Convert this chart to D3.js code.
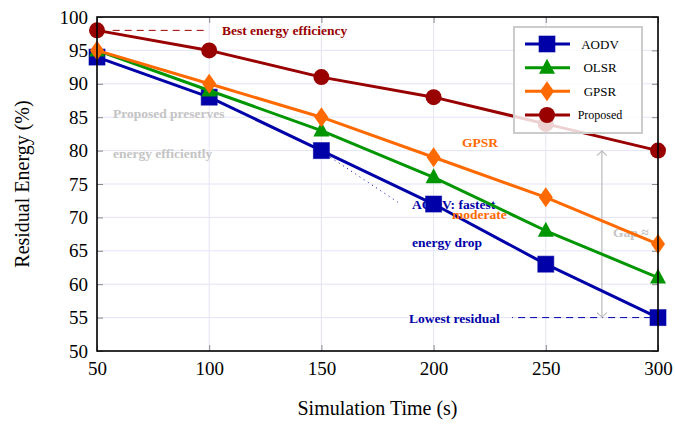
<!DOCTYPE html>
<html>
<head>
<meta charset="utf-8">
<script src="https://cdn.jsdelivr.net/npm/d3@7"></script>
<style>
body { margin:0; padding:0; background:white; }
text { font-family: "Liberation Serif", "Times New Roman", serif; }
</style>
</head>
<body>
<div id="chart"></div>
<script>
// data
var times = [50, 100, 150, 200, 250, 300];
var aodv = [94, 88, 80, 72, 63, 55];
var olsr = [95, 89, 83, 76, 68, 61];
var gpsr = [95, 90, 85, 79, 73, 66];
var proposed = [98, 95, 91, 88, 84, 80];
var seriesNames = ["AODV", "OLSR", "GPSR", "Proposed"];
var yTicks = [50, 55, 60, 65, 70, 75, 80, 85, 90, 95, 100];
var xTicks = [50, 100, 150, 200, 250, 300];

var W = 675, H = 424;
var m = {left: 97, right: 17, top: 17, bottom: 73};
var pw = W - m.left - m.right, ph = H - m.top - m.bottom;

var svg = d3.select("#chart").append("svg")
  .attr("width", W).attr("height", H);

var x = d3.scaleLinear().domain([50, 300]).range([0, pw]);
var y = d3.scaleLinear().domain([50, 100]).range([ph, 0]);

var g = svg.append("g").attr("transform", "translate(" + m.left + "," + m.top + ")");

svg.append("defs").append("clipPath").attr("id", "plotclip")
  .append("rect").attr("width", pw).attr("height", ph);

// grid
g.append("g").selectAll("line.gy").data(yTicks).enter().append("line")
  .attr("x1", 0).attr("x2", pw)
  .attr("y1", function(d){ return y(d); }).attr("y2", function(d){ return y(d); })
  .style("stroke", "#e4e4f7").style("stroke-width", 1);
g.append("g").selectAll("line.gx").data(xTicks).enter().append("line")
  .attr("y1", 0).attr("y2", ph)
  .attr("x1", function(d){ return x(d); }).attr("x2", function(d){ return x(d); })
  .style("stroke", "#e4e4f7").style("stroke-width", 1);

// axes with inward ticks
var tickCol = "#888";
var axB = g.append("g").attr("transform", "translate(0," + ph + ")")
  .call(d3.axisBottom(x).tickValues(xTicks).tickSizeInner(-6).tickSizeOuter(0).tickPadding(10));
var axL = g.append("g")
  .call(d3.axisLeft(y).tickValues(yTicks).tickSizeInner(-6).tickSizeOuter(0).tickPadding(9));
var axT = g.append("g")
  .call(d3.axisTop(x).tickValues(xTicks).tickSizeInner(-6).tickSizeOuter(0).tickFormat(""));
var axR = g.append("g").attr("transform", "translate(" + pw + ",0)")
  .call(d3.axisRight(y).tickValues(yTicks).tickSizeInner(-6).tickSizeOuter(0).tickFormat(""));
[axB, axL, axT, axR].forEach(function(a){
  a.select(".domain").remove();
  a.selectAll(".tick line").style("stroke", tickCol).style("stroke-width", 1);
  a.selectAll(".tick text").style("font-family", "Liberation Serif").style("font-size", "19px").style("fill", "black");
});
axB.selectAll(".tick text").attr("dy", "0.75em");

// annotations under the lines
var ann = g.append("g").attr("clip-path", "url(#plotclip)");
function note(t, dx, dy, col){
  ann.append("text").attr("x", x(dx)).attr("y", y(dy))
    .attr("dominant-baseline", "central")
    .style("font-weight", "bold").style("font-size", "13.5px")
    .style("fill", col).text(t);
}
note("Best energy efficiency", 105.7, 98, "#990000");
note("Proposed preserves", 57.1, 85.5, "#c4c4c4");
note("energy efficiently", 57.1, 79.5, "#c4c4c4");
note("GPSR", 212.7, 81.2, "#ff6a00");
note("AODV: fastest", 190.4, 71.9, "#0000a8");
note("energy drop", 190.4, 66.2, "#0000a8");
note("Lowest residual", 189, 54.9, "#0000a8");
note("Gap \u2248", 280, 67.7, "#c4c4c4");

// dashed/dotted helper lines
ann.append("line").attr("x1", x(57)).attr("x2", x(99.5)).attr("y1", y(98)).attr("y2", y(98))
  .style("stroke", "#990000").style("stroke-width", 1).style("stroke-dasharray", "7,5");
ann.append("line").attr("x1", x(235)).attr("x2", x(300)).attr("y1", y(55)).attr("y2", y(55))
  .style("stroke", "#0000a8").style("stroke-width", 1).style("stroke-dasharray", "1,5,7,5,7,5,7,5,7,5,7,5,7,5,7,5");
ann.append("line").attr("x1", x(154)).attr("x2", x(184)).attr("y1", y(79)).attr("y2", y(72.3))
  .style("stroke", "#0000a8").style("stroke-width", 1).style("stroke-dasharray", "1,4");

// gap arrow
var gx = x(275);
ann.append("line").attr("x1", gx).attr("x2", gx).attr("y1", y(80)).attr("y2", y(55))
  .style("stroke", "#bbbbbb").style("stroke-width", 1.2);
[[80, 1], [55, -1]].forEach(function(p){
  var yy = y(p[0]);
  ann.append("path")
    .attr("d", "M" + (gx - 5) + "," + (yy + p[1] * 5) + " Q" + gx + "," + (yy + p[1] * 1) + " " + gx + "," + yy +
               " Q" + gx + "," + (yy + p[1] * 1) + " " + (gx + 5) + "," + (yy + p[1] * 5))
    .style("fill", "none").style("stroke", "#bbbbbb").style("stroke-width", 1.2);
});

// series
var series = [
  {name: "AODV", vals: aodv, col: "#0000a8", mk: "square"},
  {name: "OLSR", vals: olsr, col: "#009600", mk: "triangle"},
  {name: "GPSR", vals: gpsr, col: "#ff6a00", mk: "diamond"},
  {name: "Proposed", vals: proposed, col: "#990000", mk: "circle"}
];

function marker(sel, mk, col){
  if (mk == "square") {
    sel.append("rect").attr("x", -8).attr("y", -8).attr("width", 16).attr("height", 16)
      .style("fill", col).style("stroke", col).style("stroke-opacity", 0.6);
  } else if (mk == "triangle") {
    sel.append("path").attr("d", "M0,-9 L8,6 L-8,6 Z").style("fill", col);
  } else if (mk == "diamond") {
    sel.append("path").attr("d", "M0,-10 L7,0 L0,10 L-7,0 Z").style("fill", col);
  } else {
    sel.append("circle").attr("r", 8).style("fill", col);
  }
}

var line = d3.line()
  .x(function(d){ return x(d.t); })
  .y(function(d){ return y(d.v); });

series.forEach(function(s){
  var pts = times.map(function(t, i){ return {t: t, v: s.vals[i]}; });
  g.append("path").datum(pts).attr("d", line)
    .style("fill", "none").style("stroke", s.col).style("stroke-width", 3)
    .style("stroke-linejoin", "round");
  g.selectAll("g.m-" + s.name).data(pts).enter().append("g")
    .attr("transform", function(d){ return "translate(" + x(d.t) + "," + y(d.v) + ")"; })
    .each(function(){ marker(d3.select(this), s.mk, s.col); });
});

// orange label that sits over the blue line
g.append("text").attr("x", x(208.2)).attr("y", y(70.5))
  .attr("dominant-baseline", "central")
  .style("font-weight", "bold").style("font-size", "13.5px")
  .style("fill", "#ff6a00").text("moderate");

// frame
g.append("rect").attr("width", pw).attr("height", ph)
  .style("fill", "none").style("stroke", "black").style("stroke-width", 1.6);

// legend
var lg = svg.append("g").attr("transform", "translate(514,27)");
lg.append("rect").attr("width", 128).attr("height", 106)
  .style("fill", "white").style("fill-opacity", 0.82)
  .style("stroke", "#cccccc").style("stroke-width", 2);
var ly = d3.scalePoint().domain(seriesNames).range([17, 88]);
series.forEach(function(s){
  var row = lg.append("g").attr("transform", "translate(0," + ly(s.name) + ")");
  row.append("line").attr("x1", 11).attr("x2", 56)
    .style("stroke", s.col).style("stroke-width", 3);
  marker(row.append("g").attr("transform", "translate(33,0)"), s.mk, s.col);
  row.append("text").attr("x", 86).attr("text-anchor", "middle")
    .attr("dominant-baseline", "central")
    .style("font-size", s.name == "Proposed" ? "12px" : "13px").text(s.name);
});

// axis titles
svg.append("text").attr("x", m.left + pw / 2).attr("y", 408)
  .attr("text-anchor", "middle").attr("dominant-baseline", "central")
  .style("font-size", "20px").text("Simulation Time (s)");
svg.append("text")
  .attr("transform", "translate(22," + (m.top + ph / 2) + ") rotate(-90)")
  .attr("text-anchor", "middle").attr("dominant-baseline", "central")
  .style("font-size", "20px").text("Residual Energy (%)");
</script>
</body>
</html>
